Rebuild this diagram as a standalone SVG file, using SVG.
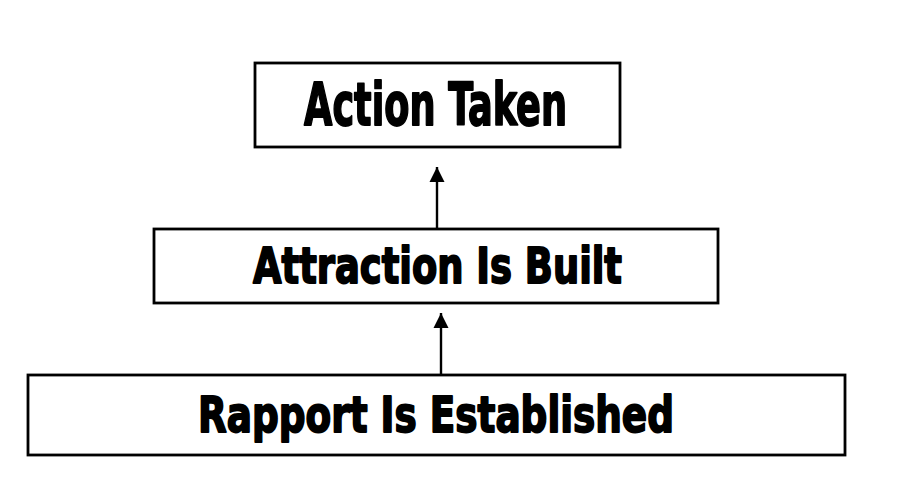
<svg xmlns="http://www.w3.org/2000/svg" width="900" height="486" viewBox="0 0 900 486">
<defs>
<style>
.box{fill:#fff;stroke:#000;stroke-width:2.8}
.lbl{font-family:"DejaVu Sans Condensed","DejaVu Sans","Liberation Sans",sans-serif;font-weight:bold;font-stretch:condensed;fill:#000;stroke:#000;stroke-width:1.8;stroke-linejoin:round}
.conn{stroke:#000;stroke-width:2.4;fill:none;marker-end:url(#ah)}
</style>
<marker id="ah" markerUnits="userSpaceOnUse" markerWidth="16" markerHeight="16" viewBox="0 0 16 16" refX="15" refY="8" orient="auto">
<path d="M0,0.5 L15,8 L0,15.5 Z" fill="#000"/>
</marker>
</defs>
<rect width="900" height="486" fill="#fff"/>
<g id="action-taken">
<rect class="box" x="255" y="63" width="365" height="84"/>
<text class="lbl" x="304" y="125" font-size="58" textLength="263" lengthAdjust="spacingAndGlyphs">Action Taken</text>
</g>
<g id="attraction-built">
<rect class="box" x="154" y="229" width="564" height="74"/>
<text class="lbl" x="253" y="283" font-size="49" textLength="369" lengthAdjust="spacingAndGlyphs">Attraction Is Built</text>
</g>
<g id="rapport-established">
<rect class="box" x="28" y="375" width="817" height="80"/>
<text class="lbl" x="198" y="432" font-size="50" textLength="476" lengthAdjust="spacingAndGlyphs">Rapport Is Established</text>
</g>
<g id="connectors">
<line class="conn" x1="437" y1="228" x2="437" y2="167"/>
<line class="conn" x1="441" y1="374" x2="441" y2="313"/>
</g>
</svg>
